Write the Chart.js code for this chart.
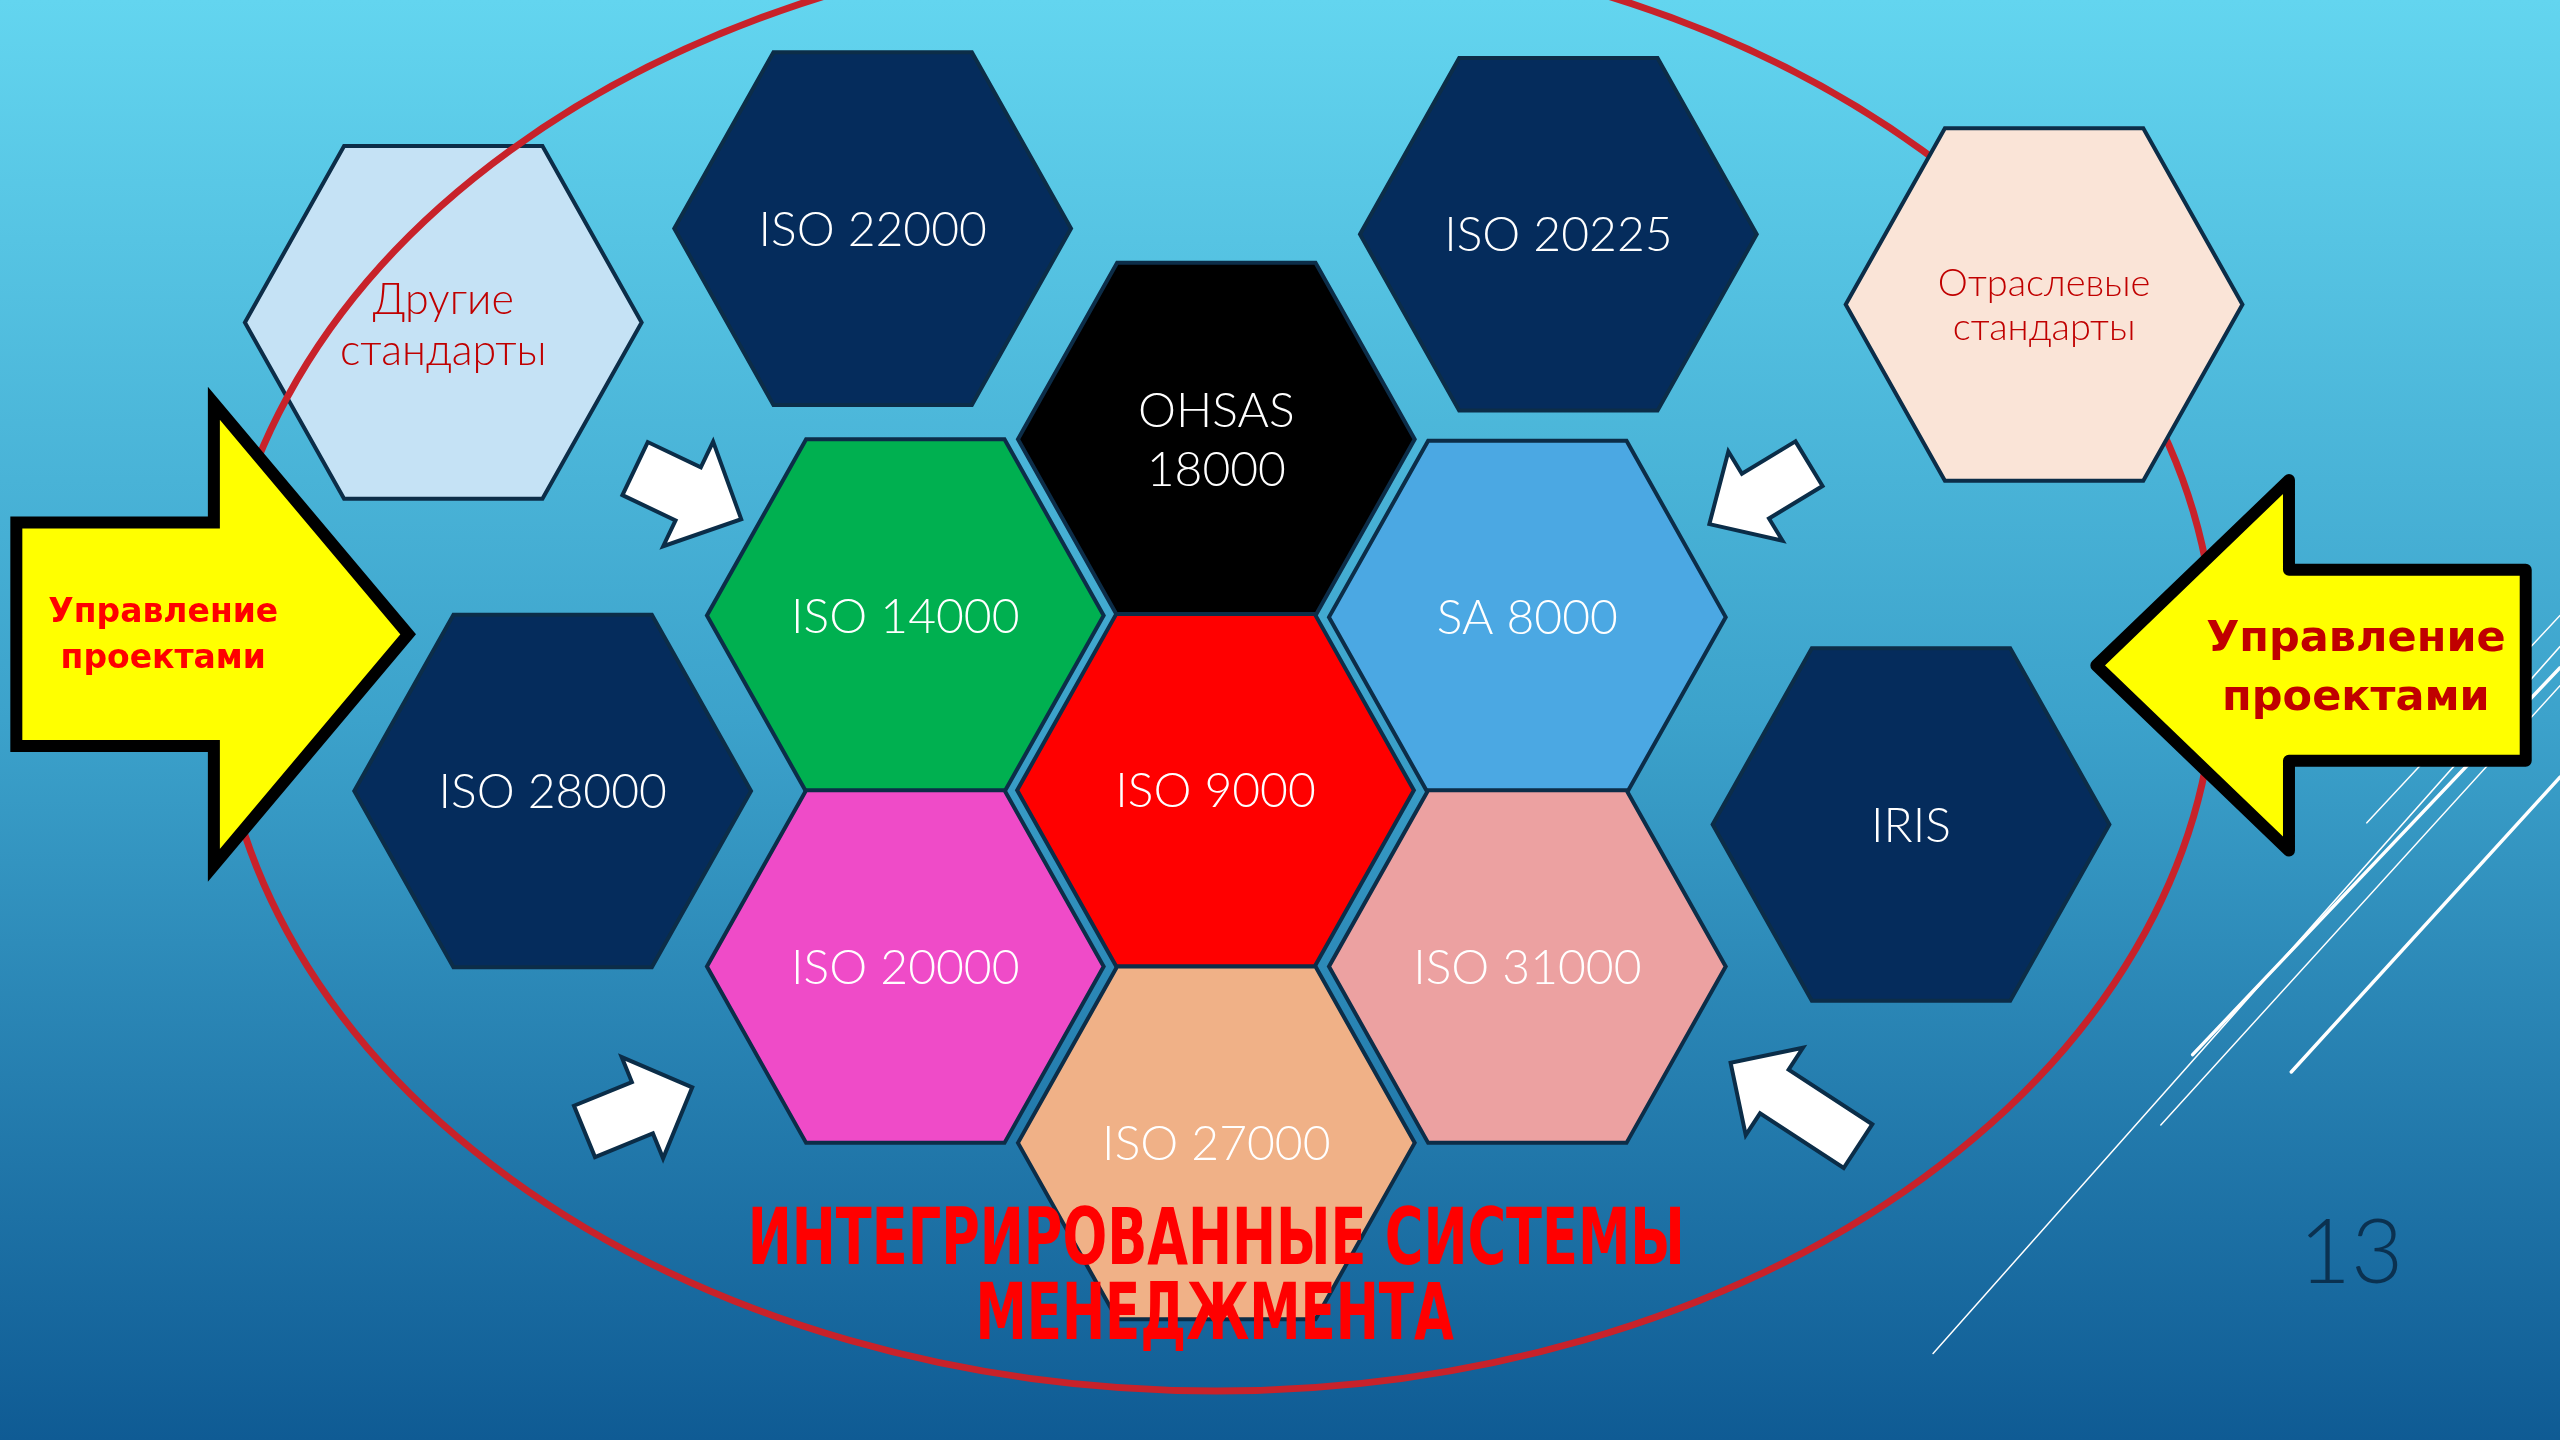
<!DOCTYPE html>
<html lang="ru">
<head>
<meta charset="utf-8">
<title>Интегрированные системы менеджмента</title>
<script src="https://cdn.jsdelivr.net/npm/chart.js@4.4.1/dist/chart.umd.min.js"></script>
<style>
    html, body { margin: 0; padding: 0; width: 2560px; height: 1440px; overflow: hidden; background: #3aa0ca; }
    #wrap { position: relative; width: 2560px; height: 1440px; }
</style>
</head>
<body>
<div id="wrap"><canvas id="slide"></canvas></div>
<script>
// --- данные: соты со стандартами (координаты слайда 1568 x 882) ---
const hexLabels = ['Другие\nстандарты', 'ISO 22000', 'ISO 20225', 'Отраслевые\nстандарты', 'OHSAS\n18000',
    'ISO 14000', 'SA 8000', 'ISO 28000', 'ISO 9000', 'IRIS', 'ISO 20000', 'ISO 31000', 'ISO 27000'];
const hexX = [271.5, 534.5, 954.5, 1252, 745, 554.5, 935.5, 338.5, 744.5, 1170.5, 554.5, 935.5, 745];
const hexY = [197.5, 140, 143.5, 186.5, 269, 377, 378, 484.5, 484, 505, 592, 592, 700];

const titleLines = ['ИНТЕГРИРОВАННЫЕ СИСТЕМЫ', 'МЕНЕДЖМЕНТА'];
const arrowText = ['Управление', 'проектами'];
const pageNumber = '13';

// --- оформление ---
const hexFill = ['#c5e2f5', '#052c5c', '#052c5c', '#fae4d7', '#000000', '#00b050', '#4ba8e3',
    '#052c5c', '#ff0000', '#052c5c', '#ef4bc8', '#eca1a1', '#f0b187'];
const hexTextColor = ['#c00000', '#fff', '#fff', '#c00000', '#fff', '#fff', '#fff', '#fff', '#fff', '#fff', '#fff', '#fff', '#fff'];
const hexFontPx = [43, 48, 48, 38, 48, 48, 48, 48, 48, 48, 48, 48, 48];
const hexLineGap = [31, 0, 0, 27, 36, 0, 0, 0, 0, 0, 0, 0, 0];
const hexTextShift = [2, 1, 1, 1, 1, 1, 1, 1, 1, 1, 1, 1, 1];
const HEX_RX = 121.5, HEX_RY = 108;

// белые стрелки: хвост, острие, полуширина стержня, полуширина головы, длина головы
const whiteArrows = [
    [389, 287, 454, 318, 18, 35.5, 36],
    [1108, 284, 1047, 321, 16, 32, 33],
    [358, 693, 424, 666, 17, 33.5, 33],
    [1138, 702, 1060, 651, 16, 32, 32]
];
const leftBigArrow = [10, 388.5, 250, 388.5, 68.5, 141.5, 119];
const rightBigArrow = [1547, 407.5, 1284, 407.5, 58.5, 113.5, 118];

// декоративные линии справа внизу: x1, y1, x2, y2, толщина
const decoLines = [
    [1184, 829, 1568, 396, 1.5],
    [1343, 646, 1568, 409, 3.4],
    [1323.5, 689, 1568, 420, 1.5],
    [1449.7, 504, 1568, 377, 1.5],
    [1403.4, 656.6, 1568, 476, 3.4]
];

document.addEventListener('DOMContentLoaded', () => {
    const canvas = document.getElementById('slide');

    function arrowPoints(a) {
        const [tx, ty, px, py, sh, hh, hl] = a;
        const len = Math.hypot(px - tx, py - ty);
        const ux = (px - tx) / len, uy = (py - ty) / len;
        const nx = -uy, ny = ux;
        const bx = px - ux * hl, by = py - uy * hl;
        return [
            [tx + nx * sh, ty + ny * sh],
            [bx + nx * sh, by + ny * sh],
            [bx + nx * hh, by + ny * hh],
            [px, py],
            [bx - nx * hh, by - ny * hh],
            [bx - nx * sh, by - ny * sh],
            [tx - nx * sh, ty - ny * sh]
        ];
    }

    const slidePlugin = {
        id: 'slide',
        beforeDraw(chart) {
            const { ctx, chartArea, scales } = chart;
            const X = v => scales.x.getPixelForValue(v);
            const Y = v => scales.y.getPixelForValue(v);
            const g = ctx.createLinearGradient(0, chartArea.top, 0, chartArea.bottom);
            g.addColorStop(0, '#63d5ef');
            g.addColorStop(0.5, '#3ca2cb');
            g.addColorStop(1, '#0f5b94');
            ctx.save();
            ctx.fillStyle = g;
            ctx.fillRect(0, 0, chart.width, chart.height);
            ctx.strokeStyle = '#ffffff';
            ctx.lineCap = 'round';
            decoLines.forEach(l => {
                ctx.lineWidth = l[4];
                ctx.beginPath();
                ctx.moveTo(X(l[0]), Y(l[1]));
                ctx.lineTo(X(l[2]), Y(l[3]));
                ctx.stroke();
            });
            ctx.restore();
        },
        afterDatasetsDraw(chart) {
            const { ctx, scales } = chart;
            const X = v => scales.x.getPixelForValue(v);
            const Y = v => scales.y.getPixelForValue(v);
            const u = Math.abs(X(1) - X(0));
            const meta = chart.getDatasetMeta(0);

            function drawHex(i) {
                const p = meta.data[i];
                const rx = HEX_RX * u, ry = HEX_RY * u;
                ctx.beginPath();
                ctx.moveTo(p.x - rx, p.y);
                ctx.lineTo(p.x - rx / 2, p.y - ry);
                ctx.lineTo(p.x + rx / 2, p.y - ry);
                ctx.lineTo(p.x + rx, p.y);
                ctx.lineTo(p.x + rx / 2, p.y + ry);
                ctx.lineTo(p.x - rx / 2, p.y + ry);
                ctx.closePath();
                ctx.fillStyle = hexFill[i];
                ctx.fill();
                ctx.lineWidth = 4;
                ctx.lineJoin = 'miter';
                ctx.strokeStyle = '#0c2d48';
                ctx.stroke();

                const lines = hexLabels[i].split('\n');
                ctx.fillStyle = hexTextColor[i];
                ctx.font = `300 ${hexFontPx[i]}px Lato, "Noto Sans", sans-serif`;
                ctx.textAlign = 'center';
                ctx.textBaseline = 'middle';
                const gap = hexLineGap[i] * u;
                const cy = p.y + hexTextShift[i] * u;
                lines.forEach((t, k) => {
                    ctx.fillText(t, p.x, cy + (k - (lines.length - 1) / 2) * gap);
                });
            }

            function drawArrow(a, fill, stroke, width, join) {
                const pts = arrowPoints(a);
                ctx.beginPath();
                pts.forEach((q, k) => {
                    if (k === 0) ctx.moveTo(X(q[0]), Y(q[1]));
                    else ctx.lineTo(X(q[0]), Y(q[1]));
                });
                ctx.closePath();
                ctx.fillStyle = fill;
                ctx.fill();
                ctx.lineJoin = join;
                ctx.lineWidth = width;
                ctx.strokeStyle = stroke;
                ctx.stroke();
            }

            function fitText(t, cx, cy, widthUnits) {
                const w = ctx.measureText(t).width;
                const sx = (widthUnits * u) / w;
                ctx.save();
                ctx.translate(cx, cy);
                ctx.scale(sx, 1);
                ctx.fillText(t, 0, 0);
                ctx.restore();
            }

            ctx.save();
            // «Другие стандарты» лежит под эллипсом
            drawHex(0);

            ctx.beginPath();
            ctx.ellipse(X(745), Y(407), 612 * u, 445 * u, 0, 0, Math.PI * 2);
            ctx.lineWidth = 7;
            ctx.strokeStyle = '#c8222a';
            ctx.stroke();

            for (let i = 1; i < hexLabels.length; i++) drawHex(i);

            whiteArrows.forEach(a => drawArrow(a, '#ffffff', '#0b2d48', 4, 'miter'));

            drawArrow(leftBigArrow, '#ffff00', '#000000', 12, 'miter');
            drawArrow(rightBigArrow, '#ffff00', '#000000', 12, 'round');

            ctx.textAlign = 'center';
            ctx.textBaseline = 'middle';
            ctx.fillStyle = '#ff0000';
            ctx.font = 'bold 33px "DejaVu Sans", sans-serif';
            ctx.fillText(arrowText[0], X(100), Y(376));
            ctx.fillText(arrowText[1], X(100), Y(404));

            ctx.fillStyle = '#c00000';
            ctx.font = 'bold 43px "DejaVu Sans", sans-serif';
            ctx.fillText(arrowText[0], X(1443), Y(392));
            ctx.fillText(arrowText[1], X(1443), Y(428));

            ctx.fillStyle = '#ff0000';
            ctx.font = 'bold 78px "Liberation Sans Narrow", "DejaVu Sans Condensed", sans-serif';
            fitText(titleLines[0], X(745), Y(762), 574);
            fitText(titleLines[1], X(744), Y(808), 293);

            ctx.fillStyle = '#0b3150';
            ctx.font = '300 90px Lato, "Noto Sans", sans-serif';
            ctx.fillText(pageNumber, X(1440), Y(768));
            ctx.restore();
        }
    };

    new Chart(canvas, {
        type: 'scatter',
        data: {
            datasets: [{
                label: 'Стандарты',
                data: hexX.map((x, i) => ({ x, y: hexY[i] })),
                pointRadius: 0,
                pointHoverRadius: 0
            }]
        },
        options: {
            responsive: true,
            maintainAspectRatio: false,
            animation: false,
            events: [],
            layout: { padding: 0 },
            plugins: {
                legend: { display: false },
                tooltip: { enabled: false },
                title: { display: false }
            },
            scales: {
                x: { type: 'linear', min: 0, max: 1568, display: false },
                y: { type: 'linear', min: 0, max: 882, reverse: true, display: false }
            }
        },
        plugins: [slidePlugin]
    });
});
</script>
</body>
</html>
